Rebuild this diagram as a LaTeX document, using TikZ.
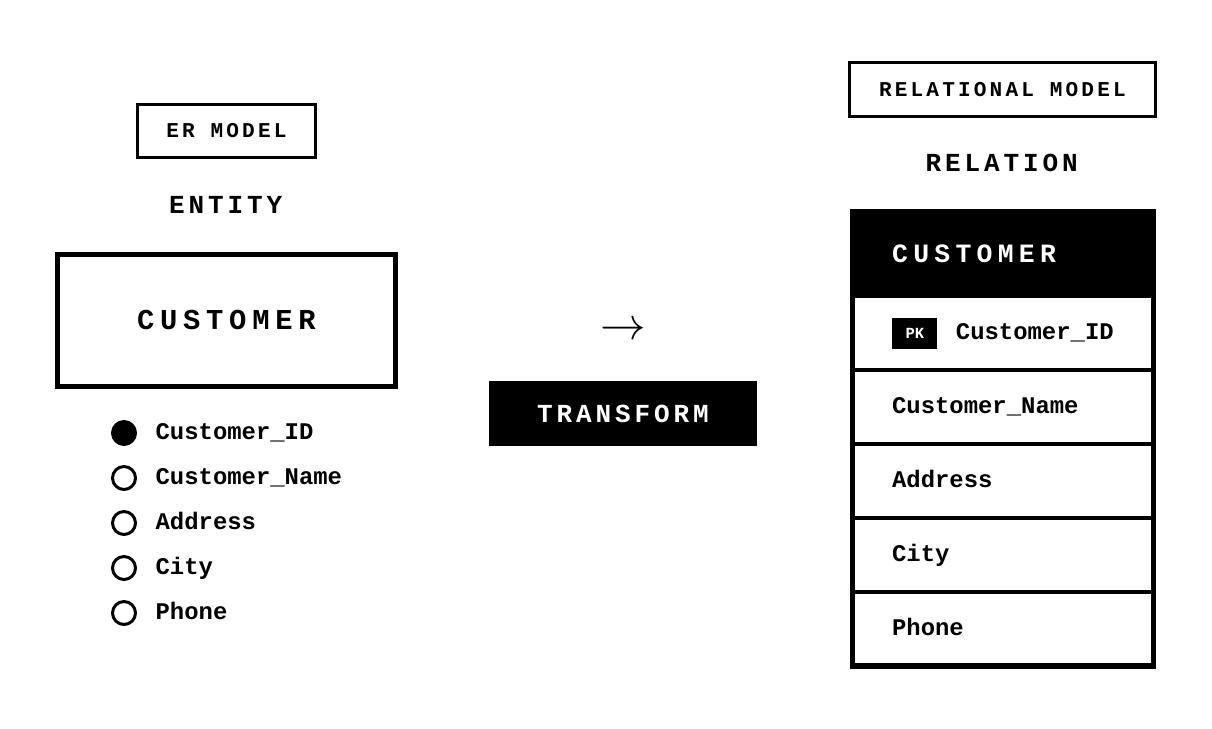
\documentclass[tikz,border=0pt]{standalone}
\usepackage{fontspec}
\setmainfont{Liberation Mono}
\setmonofont{Liberation Mono}
\newfontfamily\widemono[LetterSpace=15]{Liberation Mono}
\newfontfamily\widermono[LetterSpace=20]{Liberation Mono}
\usetikzlibrary{positioning}

\begin{document}
\begin{tikzpicture}[
  modelbox/.style={draw,line width=2.1pt,minimum width=4.45cm,minimum height=1.325cm,
    inner sep=0,font=\widemono\bfseries\fontsize{15}{18}\selectfont},
  heading/.style={inner sep=0,font=\widemono\bfseries\fontsize{18.5}{22}\selectfont},
  entitybox/.style={draw,line width=3.6pt,minimum width=8.45cm,minimum height=3.3cm,
    inner sep=0,font=\widermono\bfseries\fontsize{20.5}{24}\selectfont},
  attr/.style={circle,draw,line width=2.1pt,minimum size=0.575cm,inner sep=0},
  keyattr/.style={attr,fill=black},
  attrname/.style={inner sep=0,anchor=west,text height=9.9pt,text depth=0pt,
    font=\ttfamily\bfseries\fontsize{17}{20}\selectfont},
  darkbox/.style={fill=black,text=white,inner sep=0},
  relhead/.style={darkbox,outer sep=0,text width=5.545cm,inner xsep=0.99cm,
    minimum height=2.1125cm,align=left,
    font=\widermono\bfseries\fontsize{18.8}{22}\selectfont},
  row/.style={draw,line width=2.85pt,outer sep=0,text width=5.545cm,inner xsep=0.99cm,
    inner ysep=0,minimum height=1.85cm,align=left,text height=9.9pt,text depth=0pt,
    font=\ttfamily\bfseries\fontsize{17}{20}\selectfont}
]
\useasboundingbox (0,0) rectangle (30.3,18.2);

% ER side
\node[modelbox] (ermodel) at (5.66,14.93) {ER MODEL};
\node[heading] (entitylabel) at (5.64,13.075) {ENTITY};
\node[entitybox] (entity) at (5.66,10.19) {CUSTOMER};
\foreach \name [count=\i] in {Customer\_ID,Customer\_Name,Address,City,Phone}{
  \ifnum\i=1 \def\dotstyle{keyattr}\else\def\dotstyle{attr}\fi
  \node[\dotstyle] (dot\i) at (3.1,{8.5-1.125*\i}) {};
  \node[attrname,right=0.46cm of dot\i] (attr\i) {\name};
}

% transformation
\node[font=\fontsize{24.88}{30}\selectfont,inner sep=0] (arrow) at (15.59,9.93)
  {\scalebox{1.3}{$\rightarrow$}};
\node[darkbox,minimum width=6.7cm,minimum height=1.625cm,
  font=\widemono\bfseries\fontsize{18.5}{22}\selectfont] (transform) at (15.575,7.86)
  {TRANSFORM};

% relational side
\node[modelbox,minimum width=7.65cm,minimum height=1.35cm] (relmodel) at (25.06,15.96)
  {RELATIONAL MODEL};
\node[heading] (relationlabel) at (25.04,14.125) {RELATION};
\node[relhead,anchor=north] (relhead) at (25.075,12.9125) {CUSTOMER};
\node[row,below=0pt of relhead] (row1) {};
\foreach \name [count=\i from 2] in {Customer\_Name,Address,City,Phone}{
  \pgfmathtruncatemacro\prev{\i-1}
  \node[row,below=0pt of row\prev] (row\i) {\name};
}
\node[darkbox,minimum width=1.125cm,minimum height=0.775cm,
  font=\ttfamily\bfseries\fontsize{11}{13}\selectfont,right=0.99cm of row1.west] (pk) {PK};
\node[attrname,right=0.45cm of pk] (pkname) {Customer\_ID};
\draw[line width=3.6pt] (relhead.north west) rectangle (row5.south east);
\end{tikzpicture}
\end{document}
